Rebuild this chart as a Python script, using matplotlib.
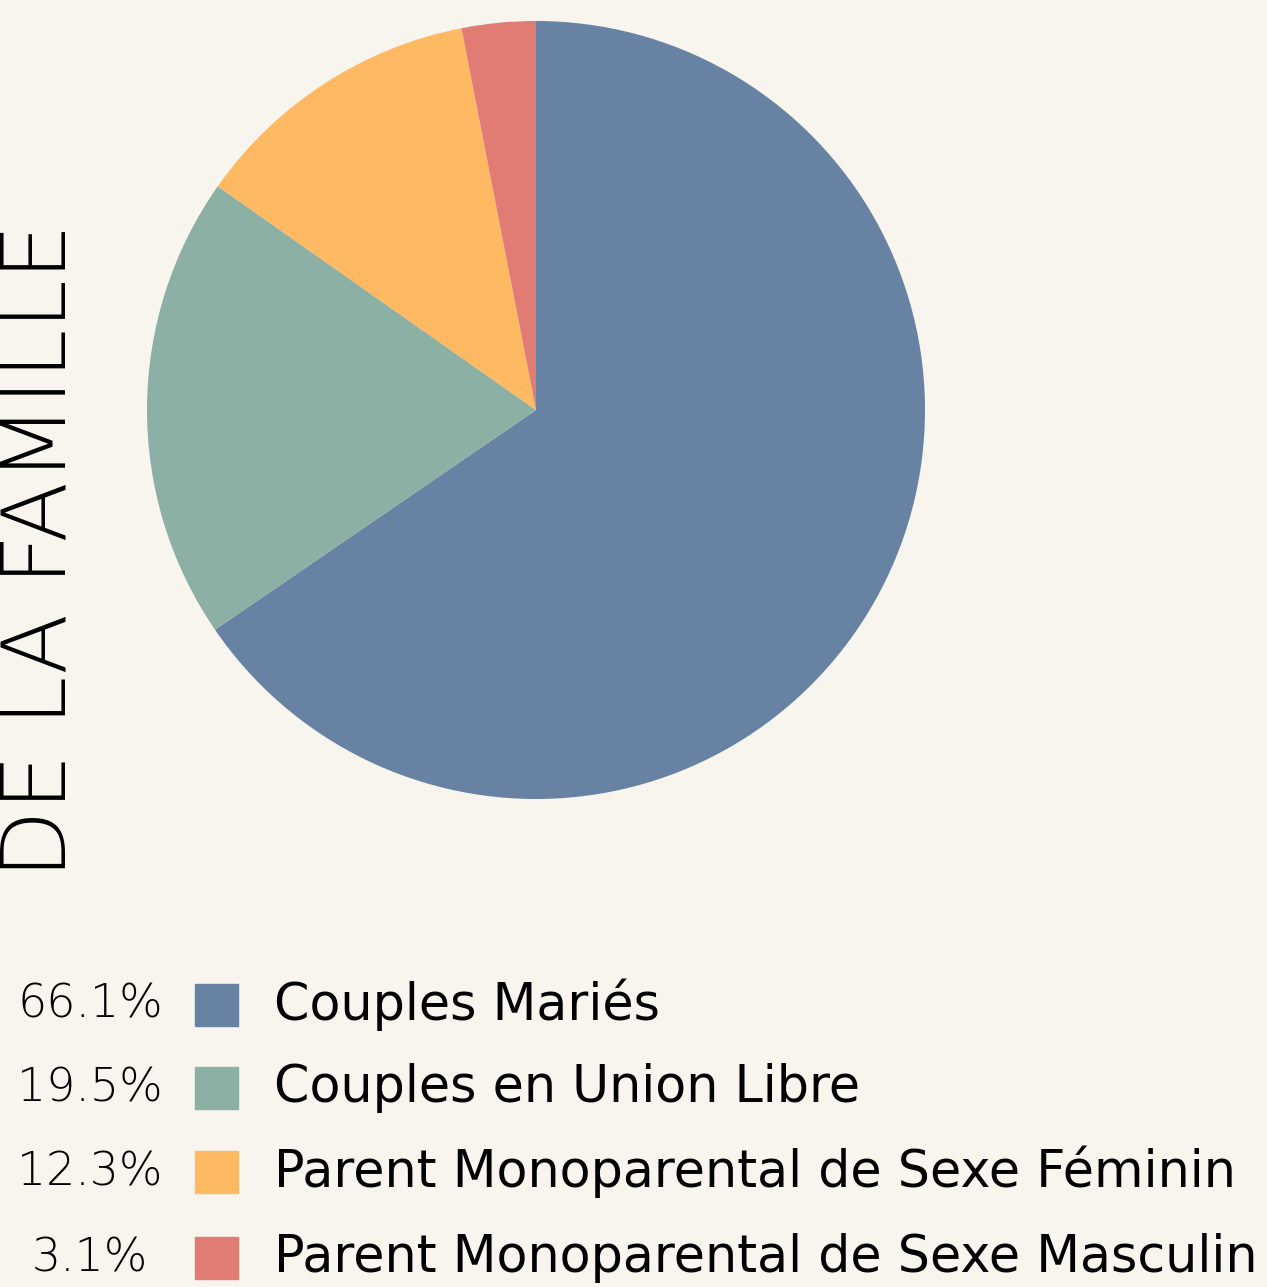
import matplotlib
matplotlib.use("Agg")
import matplotlib.pyplot as plt

# donnees
categories = ["Couples Mariés", "Couples en Union Libre",
              "Parent Monoparental de Sexe Féminin", "Parent Monoparental de Sexe Masculin"]
pourcentages = [66.1, 19.5, 12.3, 3.1]
etiquettes_pct = ["66.1%", "19.5%", "12.3%", "3.1%"]
couleurs = ["#6882A3", "#8DB0A4", "#FFB963", "#E07C74"]
titre = "DE LA FAMILLE"

W, H = 1267, 1287
fond = "#F7F5EE"
police = "DejaVu Sans"

fig = plt.figure(figsize=(W / 100, H / 100), dpi=100, facecolor=fond)

# camembert: centre (536, 410), rayon 389 px
r = 389
ax = fig.add_axes([(536 - r) / W, (H - 410 - r) / H, 2 * r / W, 2 * r / H])
ax.pie(pourcentages, colors=couleurs, startangle=90, counterclock=False,
       radius=1, wedgeprops=dict(linewidth=0))
ax.set_xlim(-1, 1)
ax.set_ylim(-1, 1)
ax.set_aspect("equal")
ax.axis("off")

# titre vertical
fig.text(66 / W, (H - 878) / H, titre, rotation=90, rotation_mode="anchor",
         ha="left", va="baseline", fontsize=64, family=police,
         fontweight="light", color="black")

# legende
ys = [1005, 1088, 1172, 1258]
for y, pct, lab, c in zip(ys, etiquettes_pct, categories, couleurs):
    fig.text(90 / W, (H - y) / H, pct, ha="center", va="center",
             fontsize=33, family=police, fontweight="light", color="black")
    fig.patches.append(plt.Rectangle((195 / W, (H - y - 21) / H), 43 / W, 42 / H,
                                     transform=fig.transFigure, color=c, figure=fig))
    fig.text(274 / W, (H - y) / H, lab, ha="left", va="center",
             fontsize=36.5, family=police, color="black")

fig.savefig("out.png", dpi=100, facecolor=fond)
